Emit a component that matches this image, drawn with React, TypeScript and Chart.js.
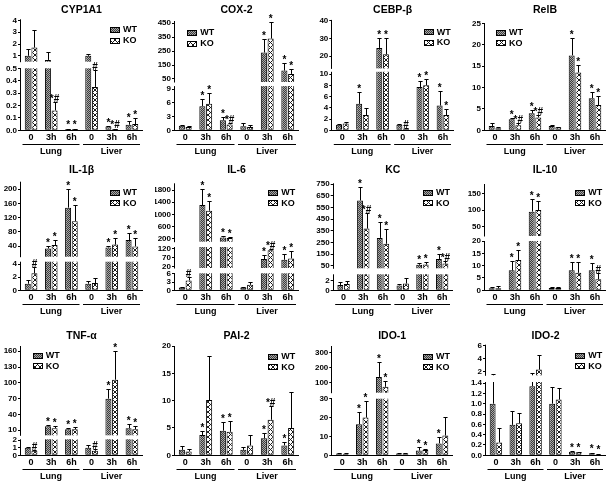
import React, { useEffect, useRef } from 'react';
import { Chart, registerables, LinearScale } from 'chart.js';

// ---------------- DATA ----------------
const CATEGORIES = ['0', '3h', '6h', '0', '3h', '6h'];
const GROUPS = ['Lung', 'Liver'];
const SERIES = ['WT', 'KO'];

const CYP1A1_WT = [1.0, 0.65, 0.01, 1.0, 0.03, 0.045];
const CYP1A1_WT_SD = [0.6, 0.65, 0.002, 0.12, 0.005, 0.03];
const CYP1A1_KO = [1.7, 0.16, 0.01, 0.35, 0.01, 0.05];
const CYP1A1_KO_SD = [1.5, 0.07, 0.002, 0.14, 0.002, 0.05];
const CYP1A1_WT_SIG = ['', '', '*', '', '*', '*'];
const CYP1A1_KO_SIG = ['', '*#', '*', '#', '*#', '*'];
const CYP1A1_TICKS = [['0.0', '0.1', '0.2', '0.3', '0.4', '0.5'], ['1', '2', '3', '4']];
const CYP1A1_RANGES = [[0, 0.5], [0.5, 4.1]];

const COX2_WT = [1.0, 5.3, 2.2, 0.9, 240, 110];
const COX2_WT_SD = [0.2, 1.6, 0.7, 0.6, 97, 57];
const COX2_KO = [0.7, 5.8, 1.3, 0.7, 340, 86];
const COX2_KO_SD = [0.2, 2.4, 0.4, 0.5, 117, 36];
const COX2_WT_SIG = ['', '*', '*', '', '*', '*'];
const COX2_KO_SIG = ['', '*', '*#', '', '*', '*'];
const COX2_TICKS = [['0', '3', '6', '9'], ['50', '150', '250', '350', '450']];
const COX2_RANGES = [[0, 9.7], [28, 466]];

const CEBPB_WT = [1.0, 4.7, 24.6, 1.0, 7.7, 4.4];
const CEBPB_WT_SD = [0.2, 2.1, 5.9, 0.2, 1.1, 2.5];
const CEBPB_KO = [1.2, 2.7, 21, 0.3, 8.0, 2.7];
const CEBPB_KO_SD = [0.3, 1.3, 9.5, 0.1, 1.1, 1.0];
const CEBPB_WT_SIG = ['', '*', '*', '', '*', '*'];
const CEBPB_KO_SIG = ['', '', '*', '#', '*', '*'];
const CEBPB_TICKS = [['0', '2', '4', '6', '8', '10'], ['20', '30', '40']];
const CEBPB_RANGES = [[0, 10.4], [13, 40.5]];

const RELB_WT = [1.0, 2.6, 4.0, 1.0, 17.5, 7.5];
const RELB_WT_SD = [0.7, 0.3, 0.7, 0.3, 4.1, 1.4];
const RELB_KO = [0.5, 1.2, 3.0, 0.7, 13.5, 5.9];
const RELB_KO_SD = [0.2, 0.4, 0.6, 0.1, 1.7, 2.2];
const RELB_WT_SIG = ['', '*', '*', '', '*', '*'];
const RELB_KO_SIG = ['', '*#', '*#', '', '*', '*'];
const RELB_TICKS = [['0', '5', '10', '15', '20', '25']];
const RELB_RANGES = [[0, 25]];

const IL1B_WT = [1.0, 33, 148, 1.0, 36, 57];
const IL1B_WT_SD = [0.5, 7, 52, 0.4, 5, 21];
const IL1B_KO = [2.6, 43, 110, 1.1, 44, 39];
const IL1B_KO_SD = [1.0, 14, 45, 0.8, 18, 25];
const IL1B_WT_SIG = ['', '*', '*', '', '*', '*'];
const IL1B_KO_SIG = ['#', '*', '*', '', '*', '*'];
const IL1B_TICKS = [['0', '2', '4'], ['40', '80', '120', '160', '200']];
const IL1B_RANGES = [[0, 4.35], [10, 221]];

const IL6_WT = [1.0, 1310, 250, 1.0, 62, 58];
const IL6_WT_SD = [0.3, 520, 60, 0.2, 25, 35];
const IL6_KO = [3.6, 1125, 230, 2.0, 112, 66];
const IL6_KO_SD = [1.2, 305, 25, 1.2, 8, 44];
const IL6_WT_SIG = ['', '*', '*', '', '*', '*'];
const IL6_KO_SIG = ['#', '*', '*', '', '*#', '*'];
const IL6_TICKS = [['0', '3', '6'], ['20', '70', '120'], ['200', '600', '1000', '1400', '1800']];
const IL6_RANGES = [[0, 6.2], [11, 131], [110, 2020]];

const KC_WT = [1.1, 610, 290, 1.0, 60, 110];
const KC_WT_SD = [0.7, 115, 140, 0.3, 15, 40];
const KC_KO = [1.3, 370, 240, 1.4, 62, 70];
const KC_KO_SD = [0.6, 130, 130, 1.1, 20, 25];
const KC_WT_SIG = ['', '*', '*', '', '*', '*'];
const KC_KO_SIG = ['', '*#', '*', '', '*', '*#'];
const KC_TICKS = [['0', '2'], ['50', '150', '250', '350', '450', '550', '650', '750']];
const KC_RANGES = [[0, 3.3], [30, 757]];

const IL10_WT = [0.8, 8.1, 95, 0.9, 8.1, 8.1];
const IL10_WT_SD = [0.4, 3.7, 37, 0.6, 3.2, 3.0];
const IL10_KO = [0.8, 12.3, 100, 0.9, 7.1, 4.5];
const IL10_KO_SD = [1.0, 3.9, 28, 0.5, 4.3, 2.6];
const IL10_WT_SIG = ['', '*', '*', '', '*', '*'];
const IL10_KO_SIG = ['', '*', '*', '', '*', '#'];
const IL10_TICKS = [['0', '5', '10', '15', '20'], ['50', '100', '150']];
const IL10_RANGES = [[0, 20], [22, 178]];

const TNFA_WT = [1.0, 17.6, 12, 1.0, 70, 14];
const TNFA_WT_SD = [0.1, 2.4, 2, 0.4, 18, 8];
const TNFA_KO = [0.6, 14, 12, 0.6, 106, 12];
const TNFA_KO_SD = [0.15, 4, 5, 0.2, 54, 6];
const TNFA_WT_SIG = ['', '*', '*', '', '*', '*'];
const TNFA_KO_SIG = ['#', '*', '*', '#', '*', '*'];
const TNFA_TICKS = [['0', '1', '2'], ['10', '40', '70', '100', '130', '160']];
const TNFA_RANGES = [[0, 2.13], [0.5, 170]];

const PAI2_WT = [1.0, 3.7, 4.5, 1.0, 3.1, 1.8];
const PAI2_WT_SD = [0.7, 0.7, 1.6, 0.6, 0.9, 0.6];
const PAI2_KO = [0.7, 10.1, 4.3, 1.8, 6.5, 5.0];
const PAI2_KO_SD = [0.5, 8.1, 2.0, 2.0, 2.6, 6.6];
const PAI2_WT_SIG = ['', '*', '*', '', '*', '*'];
const PAI2_KO_SIG = ['', '', '*', '', '*#', ''];
const PAI2_TICKS = [['0', '5', '10', '15', '20']];
const PAI2_RANGES = [[0, 20]];

const IDO1_WT = [1.0, 16.5, 140, 1.0, 2.5, 6.3];
const IDO1_WT_SD = [0.2, 6.5, 100, 0.2, 1.7, 3.5];
const IDO1_KO = [0.8, 20, 75, 1.0, 2.8, 10.5];
const IDO1_KO_SD = [0.2, 9, 40, 0.2, 0.8, 9.8];
const IDO1_WT_SIG = ['', '*', '*', '', '*', '*'];
const IDO1_KO_SIG = ['', '*', '*', '', '*', ''];
const IDO1_TICKS = [['0', '10', '20', '30'], ['100', '200', '300']];
const IDO1_RANGES = [[0, 30], [36, 344]];

const IDO2_WT = [1.0, 0.59, 1.34, 1.0, 0.07, 0.04];
const IDO2_WT_SD = [0.75, 0.26, 0.56, 0.32, 0.01, 0.01];
const IDO2_KO = [0.25, 0.62, 2.36, 1.08, 0.06, 0.02];
const IDO2_KO_SD = [0.27, 0.2, 2.14, 0.22, 0.01, 0.005];
const IDO2_WT_SIG = ['', '', '', '', '*', '*'];
const IDO2_KO_SIG = ['', '', '', '', '*', '*'];
const IDO2_TICKS = [['0.0', '0.2', '0.4', '0.6', '0.8', '1.0', '1.2', '1.4'], ['2', '4', '6']];
const IDO2_RANGES = [[0, 1.42], [1.5, 6.1]];

// ---------------- LAYOUT ----------------
const FONT = "'Liberation Sans', Arial, Helvetica, sans-serif";
const YW = 20;
const XH = 28;
const COLX = [0, 153, 306, 459];
const ROWY = [0, 160, 322];
const ROWH = [160, 162, 163];
const TITLE_Y = [10, 170, 336];

type PanelCfg = {
  title: string; row: number; col: number;
  wt: number[]; wtSd: number[]; ko: number[]; koSd: number[]; wtSig: string[]; koSig: string[];
  ticks: string[][]; ranges: number[][]; weights: number[]; gap: number;
  area: { l: number; r: number; t: number; b: number };
  legend: { x: number; y: number };
};

const PANELS: PanelCfg[] = [
  { title: 'CYP1A1', row: 0, col: 0, wt: CYP1A1_WT, wtSd: CYP1A1_WT_SD, ko: CYP1A1_KO, koSd: CYP1A1_KO_SD, wtSig: CYP1A1_WT_SIG, koSig: CYP1A1_KO_SIG, ticks: CYP1A1_TICKS, ranges: CYP1A1_RANGES, weights: [62, 42.4], gap: 6.6, area: { l: 21, r: 142, t: 19.3, b: 130.3 }, legend: { x: 110, y: 29.5 } },
  { title: 'COX-2', row: 0, col: 1, wt: COX2_WT, wtSd: COX2_WT_SD, ko: COX2_KO, koSd: COX2_KO_SD, wtSig: COX2_WT_SIG, koSig: COX2_KO_SIG, ticks: COX2_TICKS, ranges: COX2_RANGES, weights: [44.2, 61], gap: 4.1, area: { l: 175, r: 298, t: 21, b: 130.3 }, legend: { x: 187.3, y: 32.5 } },
  { title: 'CEBP-\u03B2', row: 0, col: 2, wt: CEBPB_WT, wtSd: CEBPB_WT_SD, ko: CEBPB_KO, koSd: CEBPB_KO_SD, wtSig: CEBPB_WT_SIG, koSig: CEBPB_KO_SIG, ticks: CEBPB_TICKS, ranges: CEBPB_RANGES, weights: [58.5, 48.5], gap: 3.4, area: { l: 332.3, r: 453, t: 19.9, b: 130.3 }, legend: { x: 423.7, y: 31.7 } },
  { title: 'RelB', row: 0, col: 3, wt: RELB_WT, wtSd: RELB_WT_SD, ko: RELB_KO, koSd: RELB_KO_SD, wtSig: RELB_WT_SIG, koSig: RELB_KO_SIG, ticks: RELB_TICKS, ranges: RELB_RANGES, weights: [107], gap: 0, area: { l: 485, r: 605, t: 23.3, b: 130.3 }, legend: { x: 496, y: 32.3 } },
  { title: 'IL-1\u03B2', row: 1, col: 0, wt: IL1B_WT, wtSd: IL1B_WT_SD, ko: IL1B_KO, koSd: IL1B_KO_SD, wtSig: IL1B_WT_SIG, koSig: IL1B_KO_SIG, ticks: IL1B_TICKS, ranges: IL1B_RANGES, weights: [28.6, 75], gap: 5, area: { l: 21, r: 142, t: 181.7, b: 290.3 }, legend: { x: 110, y: 192.3 } },
  { title: 'IL-6', row: 1, col: 1, wt: IL6_WT, wtSd: IL6_WT_SD, ko: IL6_KO, koSd: IL6_KO_SD, wtSig: IL6_WT_SIG, koSig: IL6_KO_SIG, ticks: IL6_TICKS, ranges: IL6_RANGES, weights: [17, 21, 58.4], gap: 5.3, area: { l: 175, r: 298, t: 183.3, b: 290.3 }, legend: { x: 268.3, y: 192.3 } },
  { title: 'KC', row: 1, col: 2, wt: KC_WT, wtSd: KC_WT_SD, ko: KC_KO, koSd: KC_KO_SD, wtSig: KC_WT_SIG, koSig: KC_KO_SIG, ticks: KC_TICKS, ranges: KC_RANGES, weights: [16, 85], gap: 6, area: { l: 333.7, r: 452, t: 183.3, b: 290.3 }, legend: { x: 423, y: 192.3 } },
  { title: 'IL-10', row: 1, col: 3, wt: IL10_WT, wtSd: IL10_WT_SD, ko: IL10_KO, koSd: IL10_KO_SD, wtSig: IL10_WT_SIG, koSig: IL10_KO_SIG, ticks: IL10_TICKS, ranges: IL10_RANGES, weights: [49.3, 52], gap: 5, area: { l: 485, r: 605, t: 184, b: 290.3 }, legend: { x: 575.3, y: 192.3 } },
  { title: 'TNF-\u03B1', row: 2, col: 0, wt: TNFA_WT, wtSd: TNFA_WT_SD, ko: TNFA_KO, koSd: TNFA_KO_SD, wtSig: TNFA_WT_SIG, koSig: TNFA_KO_SIG, ticks: TNFA_TICKS, ranges: TNFA_RANGES, weights: [16, 89.3], gap: 4, area: { l: 21, r: 142, t: 346, b: 455.3 }, legend: { x: 32.7, y: 355.3 } },
  { title: 'PAI-2', row: 2, col: 1, wt: PAI2_WT, wtSd: PAI2_WT_SD, ko: PAI2_KO, koSd: PAI2_KO_SD, wtSig: PAI2_WT_SIG, koSig: PAI2_KO_SIG, ticks: PAI2_TICKS, ranges: PAI2_RANGES, weights: [109.3], gap: 0, area: { l: 175, r: 298, t: 346, b: 455.3 }, legend: { x: 268.3, y: 356.3 } },
  { title: 'IDO-1', row: 2, col: 2, wt: IDO1_WT, wtSd: IDO1_WT_SD, ko: IDO1_KO, koSd: IDO1_KO_SD, wtSig: IDO1_WT_SIG, koSig: IDO1_KO_SIG, ticks: IDO1_TICKS, ranges: IDO1_RANGES, weights: [56.6, 46.7], gap: 6, area: { l: 332.3, r: 452, t: 346, b: 455.3 }, legend: { x: 423, y: 356.3 } },
  { title: 'IDO-2', row: 2, col: 3, wt: IDO2_WT, wtSd: IDO2_WT_SD, ko: IDO2_KO, koSd: IDO2_KO_SD, wtSig: IDO2_WT_SIG, koSig: IDO2_KO_SIG, ticks: IDO2_TICKS, ranges: IDO2_RANGES, weights: [73.3, 30.6], gap: 6.7, area: { l: 486, r: 605, t: 344.7, b: 455.3 }, legend: { x: 575.3, y: 355.3 } },
];

// ---------------- BROKEN AXIS SCALE ----------------
const CFG = new WeakMap<HTMLCanvasElement, PanelCfg>();

class BrokenLinearScale extends LinearScale {
  static id = 'brokenLinear';
  static defaults = LinearScale.defaults;

  buildTicks() {
    const cfg = CFG.get((this as any).chart.canvas)!;
    const ticks: { value: number }[] = [];
    cfg.ticks.forEach((seg) => seg.forEach((l) => ticks.push({ value: parseFloat(l) })));
    return ticks as any;
  }

  layoutSegs() {
    const cfg = CFG.get((this as any).chart.canvas)!;
    const self: any = this;
    const wsum = cfg.weights.reduce((a, b) => a + b, 0);
    const avail = self.bottom - self.top - cfg.gap * (cfg.ranges.length - 1);
    let y = self.bottom;
    return cfg.ranges.map((r, i) => {
      const h = (avail * cfg.weights[i]) / wsum;
      const s = { min: r[0], max: r[1], y0: y, y1: y - h };
      y -= h + cfg.gap;
      return s;
    });
  }

  getPixelForValue(value: number) {
    if (value === null || value === undefined || isNaN(value)) return NaN;
    const L = this.layoutSegs();
    for (let i = 0; i < L.length; i++) {
      const s = L[i];
      if (value <= s.max || i === L.length - 1) {
        if (i > 0 && value < s.min) {
          const p = L[i - 1];
          const t = Math.max(0, Math.min(1, (value - p.max) / (s.min - p.max)));
          return p.y1 + (s.y0 - p.y1) * t;
        }
        return s.y0 - ((value - s.min) / (s.max - s.min)) * (s.y0 - s.y1);
      }
    }
    return NaN;
  }

  getValueForPixel(pixel: number) {
    const L = this.layoutSegs();
    for (let i = 0; i < L.length; i++) {
      const s = L[i];
      if (pixel >= s.y1 || i === L.length - 1) {
        return s.min + ((s.y0 - pixel) / (s.y0 - s.y1)) * (s.max - s.min);
      }
    }
    return 0;
  }
}

Chart.register(...registerables, BrokenLinearScale);

// ---------------- PATTERNS ----------------
function makePattern(ctx: CanvasRenderingContext2D, kind: 'wt' | 'ko') {
  const c = document.createElement('canvas');
  if (kind === 'wt') {
    c.width = 4; c.height = 4;
    const g = c.getContext('2d')!;
    g.fillStyle = '#a8a8a8'; g.fillRect(0, 0, 4, 4);
    g.fillStyle = '#3c3c3c';
    for (let y = 0; y < 4; y++) for (let x = 0; x < 4; x++) if ((x + y) % 2 === 0) g.fillRect(x, y, 1, 1);
  } else {
    c.width = 5; c.height = 5;
    const g = c.getContext('2d')!;
    g.fillStyle = '#ffffff'; g.fillRect(0, 0, 5, 5);
    g.fillStyle = '#1a1a1a';
    for (let i = 0; i < 5; i++) { g.fillRect(i, i, 1, 1); g.fillRect(4 - i, i, 1, 1); }
  }
  return ctx.createPattern(c, 'repeat')!;
}

// ---------------- DECORATION PLUGIN ----------------
const decorPlugin = {
  id: 'decor',
  afterDatasetsDraw(chart: any) {
    const cfg = CFG.get(chart.canvas);
    if (!cfg) return;
    const ctx: CanvasRenderingContext2D = chart.ctx;
    const ys: any = chart.scales.y;
    const xs: any = chart.scales.x;
    const ca = chart.chartArea;
    const boxX = COLX[cfg.col];
    const boxY = ROWY[cfg.row];
    ctx.save();
    ctx.strokeStyle = '#000';
    ctx.lineWidth = 1;

    // error bars (upper only)
    const series = [
      { m: cfg.wt, sd: cfg.wtSd, sig: cfg.wtSig },
      { m: cfg.ko, sd: cfg.koSd, sig: cfg.koSig },
    ];
    const tops: number[][] = [[], []];
    series.forEach((s, di) => {
      const meta = chart.getDatasetMeta(di);
      meta.data.forEach((bar: any, i: number) => {
        const p = bar.getProps(['x', 'y', 'width'], true);
        const ye = ys.getPixelForValue(s.m[i] + s.sd[i]);
        const cx = Math.round(p.x) + 0.5;
        const yc = Math.round(ye) + 0.5;
        const hw = p.width * 0.35;
        ctx.beginPath();
        ctx.moveTo(cx, p.y);
        ctx.lineTo(cx, yc);
        ctx.moveTo(cx - hw, yc);
        ctx.lineTo(cx + hw, yc);
        ctx.stroke();
        tops[di][i] = Math.min(yc, p.y);
      });
    });

    // axis breaks (white bands)
    const segs = ys.layoutSegs();
    ctx.fillStyle = '#fff';
    for (let k = 1; k < segs.length; k++) {
      const yt = segs[k].y0;
      const yb = segs[k - 1].y1;
      ctx.fillRect(ca.left + 1, yt, ca.right - ca.left, yb - yt);
    }

    // y axis line segments
    const ax = Math.round(ca.left) - 0.5;
    ctx.beginPath();
    segs.forEach((s: any) => {
      ctx.moveTo(ax, s.y0 + 0.5);
      ctx.lineTo(ax, s.y1);
    });
    ctx.stroke();

    // significance marks
    ctx.fillStyle = '#000';
    ctx.font = `bold 10px ${FONT}`;
    ctx.textAlign = 'center';
    ctx.textBaseline = 'alphabetic';
    series.forEach((s, di) => {
      const meta = chart.getDatasetMeta(di);
      meta.data.forEach((bar: any, i: number) => {
        if (!s.sig[i]) return;
        const p = bar.getProps(['x'], true);
        ctx.fillText(s.sig[i], p.x, tops[di][i] - 1);
      });
    });

    // legend
    const lx = cfg.legend.x - boxX;
    const pats = [chart.data.datasets[0].backgroundColor, chart.data.datasets[1].backgroundColor];
    ctx.font = `bold 9px ${FONT}`;
    ctx.textAlign = 'left';
    ctx.textBaseline = 'middle';
    SERIES.forEach((name, i) => {
      const ly = cfg.legend.y - boxY + i * 10.5;
      ctx.fillStyle = pats[i];
      ctx.fillRect(Math.round(lx), Math.round(ly - 2.5), 9, 5);
      ctx.strokeRect(Math.round(lx) + 0.5, Math.round(ly - 2.5) + 0.5, 9, 5);
      ctx.fillStyle = '#000';
      ctx.fillText(name, lx + 13, ly + 0.5);
    });

    // title
    ctx.font = `bold 10.5px ${FONT}`;
    ctx.textAlign = 'center';
    ctx.fillText(cfg.title, (ca.left + ca.right) / 2, TITLE_Y[cfg.row] - boxY);

    // group underline + labels
    const slot = (ca.right - ca.left) / CATEGORIES.length;
    ctx.font = `bold 9px ${FONT}`;
    GROUPS.forEach((g, gi) => {
      const x1 = xs.getPixelForValue(gi * 3) - slot / 2 + 1.5;
      const x2 = xs.getPixelForValue(gi * 3 + 2) + slot / 2 - 2;
      const yl = Math.round(ca.bottom + 13.5) + 0.5;
      ctx.beginPath();
      ctx.moveTo(x1, yl);
      ctx.lineTo(x2, yl);
      ctx.stroke();
      ctx.fillText(g, (x1 + x2) / 2, ca.bottom + 21);
    });

    ctx.restore();
  },
};

// ---------------- COMPONENTS ----------------
function Panel({ cfg }: { cfg: PanelCfg }) {
  const ref = useRef<HTMLCanvasElement>(null);
  const bx = COLX[cfg.col];
  const by = ROWY[cfg.row];
  const bw = 153;
  const bh = ROWH[cfg.row];

  useEffect(() => {
    const canvas = ref.current!;
    CFG.set(canvas, cfg);
    const ctx = canvas.getContext('2d')!;
    const wtPat = makePattern(ctx, 'wt');
    const koPat = makePattern(ctx, 'ko');
    const labels: string[] = [];
    cfg.ticks.forEach((s) => s.forEach((l) => labels.push(l)));
    const pad = {
      left: cfg.area.l - bx - YW,
      right: bx + bw - cfg.area.r,
      top: cfg.area.t - by,
      bottom: by + bh - cfg.area.b - XH,
    };
    const chart = new Chart(canvas, {
      type: 'bar',
      data: {
        labels: CATEGORIES,
        datasets: [
          { label: SERIES[0], data: cfg.wt, backgroundColor: wtPat as any, borderColor: '#000', borderWidth: 1, borderSkipped: false, categoryPercentage: 0.66, barPercentage: 0.9 },
          { label: SERIES[1], data: cfg.ko, backgroundColor: koPat as any, borderColor: '#000', borderWidth: 1, borderSkipped: false, categoryPercentage: 0.66, barPercentage: 0.9 },
        ],
      },
      options: {
        responsive: false,
        animation: false,
        devicePixelRatio: 1,
        events: [],
        layout: { padding: pad },
        plugins: { legend: { display: false }, tooltip: { enabled: false }, title: { display: false } },
        scales: {
          x: {
            type: 'category',
            offset: true,
            grid: { display: false, drawTicks: false },
            border: { display: true, color: '#000', width: 1 },
            ticks: { color: '#000', font: { family: FONT, size: 9, weight: 'bold' }, padding: 2, maxRotation: 0, autoSkip: false },
            afterFit: (s: any) => { s.height = XH; },
          },
          y: {
            type: 'brokenLinear' as any,
            min: cfg.ranges[0][0],
            max: cfg.ranges[cfg.ranges.length - 1][1],
            grid: { display: true, drawOnChartArea: false, drawTicks: true, tickLength: 3, color: '#000', lineWidth: 1 },
            border: { display: false },
            ticks: {
              color: '#000',
              font: { family: FONT, size: 8, weight: 'bold' },
              padding: 1,
              autoSkip: false,
              callback: (_v: any, i: number) => labels[i],
            },
            afterFit: (s: any) => { s.width = YW; },
          } as any,
        },
      },
      plugins: [decorPlugin],
    });
    return () => chart.destroy();
  }, []);

  return (
    <canvas
      ref={ref}
      width={bw}
      height={bh}
      style={{ position: 'absolute', left: bx, top: by, width: bw, height: bh }}
    />
  );
}

export default function App() {
  return (
    <div style={{ position: 'absolute', left: 0, top: 0, width: 612, height: 485, background: '#fff', overflow: 'hidden' }}>
      {PANELS.map((p) => (
        <Panel key={p.title} cfg={p} />
      ))}
    </div>
  );
}
